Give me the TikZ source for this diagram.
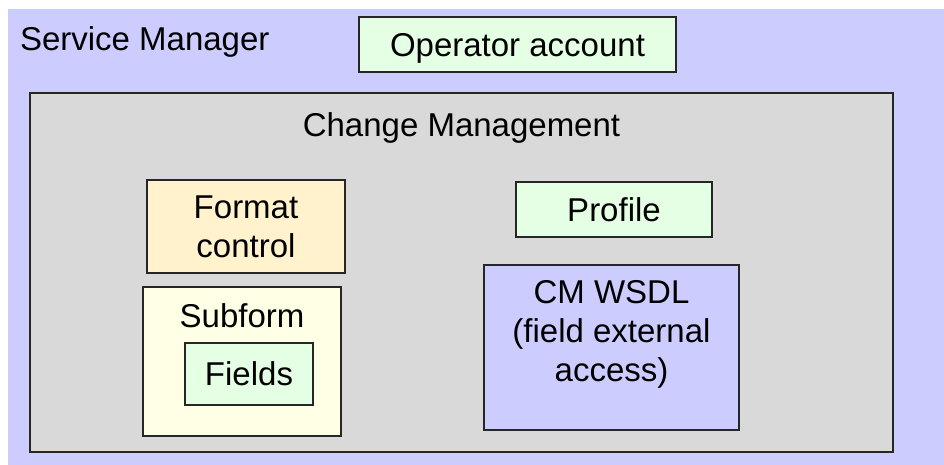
\documentclass[tikz,border=0pt]{standalone}
\usepackage{fontspec}
\setmainfont{Liberation Sans}
\usepackage{tikz}

\definecolor{lavender}{HTML}{CCCCFF}
\definecolor{panelgray}{HTML}{D9D9D9}
\definecolor{mint}{HTML}{E5FFE5}
\definecolor{peach}{HTML}{FFF2CC}
\definecolor{cream}{HTML}{FFFFE5}

\begin{document}
\begin{tikzpicture}[x=1pt,y=-1pt,
	every node/.style={font=\fontsize{33}{39}\selectfont,inner sep=0pt,outer sep=0pt},
	box/.style={draw=black!85,line width=1.6pt,align=center,text depth=0pt}]
			\useasboundingbox (0,0) rectangle (944,465);
			\node[fill=lavender,minimum width=936pt,minimum height=456pt] (sm) at (476,237) {};
			\node[anchor=base west] (smlabel) at (20,51) {Service Manager};
			\node[box,fill=mint,minimum width=317pt,minimum height=55pt] (op) at (517.5,44.5) {Operator account};
			\node[box,fill=panelgray,minimum width=863pt,minimum height=359pt] (cm) at (461.5,272.5) {};
			\node[anchor=base] (cmlabel) at (461.5,137) {Change Management};
			\node[box,fill=peach,minimum width=198pt,minimum height=93pt] (fmt) at (246,226.5) {Format\\control};
			\node[box,fill=cream,minimum width=198pt,minimum height=149pt] (subform) at (242,361.5) {};
			\node[anchor=base] (subformlabel) at (242,327) {Subform};
			\node[box,fill=mint,minimum width=128pt,minimum height=62pt] (fields) at (249,374) {Fields};
			\node[box,fill=mint,minimum width=196pt,minimum height=55pt] (profile) at (614,209.5) {Profile};
			\node[box,fill=lavender,minimum width=255pt,minimum height=165pt] (wsdl) at (611.5,347.5) {};
			\node[anchor=north,align=center] (wsdllabel) at (611.5,280) {CM WSDL\\(field external\\access)};
		\end{tikzpicture}
\end{document}
